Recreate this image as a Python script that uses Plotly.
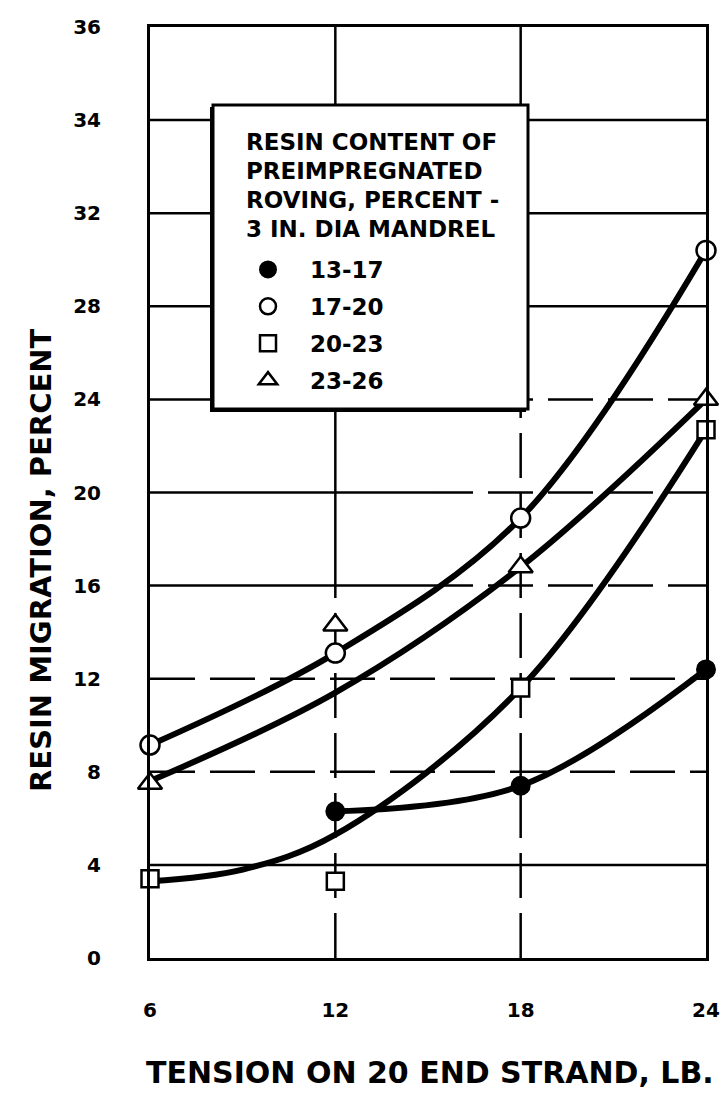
import plotly.graph_objects as go

# ---------------- data ----------------
tension = [6, 12, 18, 24]
series_names = ["13-17", "17-20", "20-23", "23-26"]

meas_13_17 = [None, 6.3, 7.4, 12.4]
meas_17_20 = [9.15, 13.1, 18.9, 30.4]
meas_20_23 = [3.4, 3.3, 11.6, 22.7]
meas_23_26 = [7.5, 14.3, 16.8, 24.0]

# hand-faired curves as drawn on the chart
fit_x_13_17 = [12, 18, 24]
fit_y_13_17 = [6.3, 7.4, 12.4]
fit_x_17_20 = [6, 12, 18, 24]
fit_y_17_20 = [9.15, 13.1, 18.9, 30.4]
fit_x_20_23 = [6, 9, 12, 18, 24]
fit_y_20_23 = [3.3, 3.8, 5.3, 11.6, 22.7]
fit_x_23_26 = [6, 12, 18, 24]
fit_y_23_26 = [7.6, 11.4, 16.8, 24.0]

x_tickvals = [6, 12, 18, 24]
x_ticktext = ["6", "12", "18", "24"]
y_tickvals = [0, 4, 8, 12, 16, 20, 24, 28, 32, 36, 40]
y_ticktext = ["0", "4", "8", "12", "16", "20", "24", "28", "32", "34", "36"]

legend_title_lines = ["RESIN CONTENT OF", "PREIMPREGNATED",
                      "ROVING, PERCENT -", "3 IN. DIA MANDREL"]
x_title = "TENSION ON 20 END STRAND, LB."
y_title = "RESIN MIGRATION, PERCENT"

# where each grid line changes from solid to broken (dashed)
h_grid_split = {4: 24, 8: 6, 12: 6, 16: 15, 20: 15, 24: 15, 28: 24, 32: 24, 36: 24}
v_grid_split = {12: 16, 18: 24}

# ---------------- figure ----------------
FONT = "DejaVu Sans"
W, H = 722, 1099
ML, MR, MT, MB = 150, 16, 27, 141
PW, PH = W - ML - MR, H - MT - MB
DASH = "45px,15px"


def px_x(p):
    return (p - ML) / PW


def px_y(p):
    return (H - MB - p) / PH


fig = go.Figure()

curves = [(fit_x_13_17, fit_y_13_17), (fit_x_17_20, fit_y_17_20),
          (fit_x_20_23, fit_y_20_23), (fit_x_23_26, fit_y_23_26)]
for cx, cy in curves:
    fig.add_trace(go.Scatter(x=cx, y=cy, mode="lines",
                             line=dict(color="black", width=6, shape="spline", smoothing=1),
                             showlegend=False, hoverinfo="skip"))

marker_specs = [
    (meas_13_17, dict(symbol="circle", size=18, color="black", line=dict(color="black", width=2))),
    (meas_17_20, dict(symbol="circle", size=19, color="white", line=dict(color="black", width=2.5))),
    (meas_20_23, dict(symbol="square", size=17, color="white", line=dict(color="black", width=2.5))),
    (meas_23_26, dict(symbol="triangle-up", size=21, color="white", line=dict(color="black", width=2.5))),
]
for name, (vals, mk) in zip(series_names, marker_specs):
    fig.add_trace(go.Scatter(x=tension, y=vals, mode="markers", name=name,
                             marker=mk, cliponaxis=False, legendgroup=name))

# grid lines (shapes, so parts can be broken like the original)
shapes = []
x_lo, x_hi = x_tickvals[0], x_tickvals[-1]
y_lo, y_hi = y_tickvals[0], y_tickvals[-1]
for gy, split in h_grid_split.items():
    if split > x_lo:
        shapes.append(dict(type="line", xref="x", yref="y", x0=x_lo, x1=split, y0=gy, y1=gy,
                           line=dict(color="black", width=2.5), layer="below"))
    if split < x_hi:
        shapes.append(dict(type="line", xref="x", yref="y", x0=split, x1=x_hi, y0=gy, y1=gy,
                           line=dict(color="black", width=2.5, dash=DASH), layer="below"))
for gx, split in v_grid_split.items():
    shapes.append(dict(type="line", xref="x", yref="y", x0=gx, x1=gx, y0=split, y1=y_hi,
                       line=dict(color="black", width=2.5), layer="below"))
    shapes.append(dict(type="line", xref="x", yref="y", x0=gx, x1=gx, y0=y_lo, y1=split,
                       line=dict(color="black", width=2.5, dash=DASH), layer="below"))

# legend box with a heavier lower-left edge
shapes.append(dict(type="rect", xref="paper", yref="paper",
                   x0=px_x(210), x1=px_x(526), y0=px_y(412), y1=px_y(107),
                   fillcolor="black", line=dict(width=0), layer="above"))
shapes.append(dict(type="rect", xref="paper", yref="paper",
                   x0=px_x(213), x1=px_x(528), y0=px_y(409), y1=px_y(105),
                   fillcolor="white", line=dict(color="black", width=3), layer="above"))

annotations = []
for i, line in enumerate(legend_title_lines):
    annotations.append(dict(text=line, xref="paper", yref="paper",
                            x=px_x(244), y=px_y(142 + 29 * i), xanchor="left", yanchor="middle",
                            showarrow=False, font=dict(family=FONT, size=23, color="black", weight="bold")))
annotations.append(dict(text=x_title, xref="paper", yref="paper", x=px_x(430), y=px_y(1072),
                        xanchor="center", yanchor="middle", showarrow=False,
                        font=dict(family=FONT, size=30, color="black", weight="bold")))
annotations.append(dict(text=y_title, xref="paper", yref="paper", x=px_x(41), y=px_y(560),
                        xanchor="center", yanchor="middle", textangle=-90, showarrow=False,
                        font=dict(family=FONT, size=29, color="black", weight="bold")))

fig.update_layout(
    width=W, height=H,
    margin=dict(l=ML, r=MR, t=MT, b=MB, pad=0, autoexpand=False),
    paper_bgcolor="white", plot_bgcolor="white",
    shapes=shapes, annotations=annotations,
    legend=dict(x=px_x(226), y=px_y(248), xanchor="left", yanchor="top",
                bgcolor="rgba(0,0,0,0)", borderwidth=0, tracegroupgap=4, itemwidth=74,
                font=dict(family=FONT, size=23, color="black", weight="bold")),
    xaxis=dict(range=[x_lo, x_hi], tickvals=x_tickvals, ticktext=x_ticktext,
               showgrid=False, zeroline=False, showline=True, mirror=True,
               linecolor="black", linewidth=3, ticks="", ticklabelstandoff=32,
               tickfont=dict(family=FONT, size=20, color="black", weight="bold")),
    yaxis=dict(range=[y_lo, y_hi], tickvals=y_tickvals, ticktext=y_ticktext,
               showgrid=False, zeroline=False, showline=True, mirror=True,
               linecolor="black", linewidth=3, ticks="", ticklabelstandoff=42,
               tickfont=dict(family=FONT, size=20, color="black", weight="bold")),
)

fig.write_html("out.html", config={"displayModeBar": False},
               post_script="document.body.style.margin='0px';")
